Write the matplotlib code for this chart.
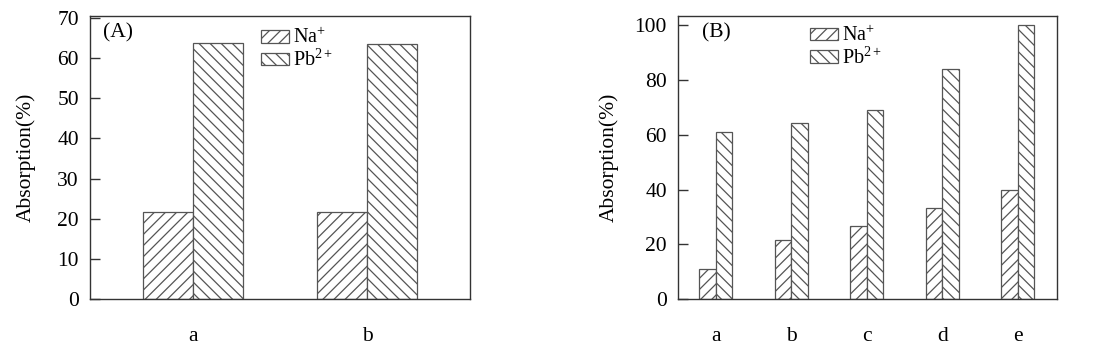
import matplotlib
matplotlib.use("Agg")
import matplotlib.pyplot as plt
import numpy as np

plt.rcParams['font.family'] = ['Liberation Serif', 'DejaVu Serif']
plt.rcParams['hatch.linewidth'] = 0.9
plt.rcParams['hatch.color'] = '#444444'
plt.rcParams['mathtext.fontset'] = 'custom'
plt.rcParams['mathtext.rm'] = 'Liberation Serif'
plt.rcParams['mathtext.it'] = 'Liberation Serif:italic'

cats_a = ['a', 'b']
na_a = [21.6, 21.6]
pb_a = [63.7, 63.6]

cats_b = ['a', 'b', 'c', 'd', 'e']
na_b = [11.0, 21.6, 26.5, 33.2, 39.8]
pb_b = [61.1, 64.2, 69.0, 84.2, 100.0]

series_labels = [r'Na$^{\mathregular{+}}$', r'Pb$^{\mathregular{2+}}$']

fig = plt.figure(figsize=(11.03, 3.51), dpi=100)
W, H = 1103, 351

def add_ax(left, right, top, bottom):
    return fig.add_axes([left / W, 1 - bottom / H, (right - left) / W, (bottom - top) / H])

axA = add_ax(90, 470, 16, 299)
axB = add_ax(678, 1057, 16, 299)

edge = '#555555'
FS = 15.5

def draw(ax, cats, na, pb, width, hatch_n, hatch_p, xlim, ylim, yticks, label,
         label_x, ylabel_x, leg_x, leg_top):
    x = np.arange(len(cats))
    ax.bar(x - width / 2, na, width, facecolor='white', edgecolor=edge, linewidth=0.9,
           hatch=hatch_n, label=series_labels[0])
    ax.bar(x + width / 2, pb, width, facecolor='white', edgecolor=edge, linewidth=0.9,
           hatch=hatch_p, label=series_labels[1])
    ax.set_xlim(*xlim)
    ax.set_ylim(*ylim)
    ax.set_yticks(yticks)
    ax.set_xticks(x)
    ax.set_xticklabels(cats)
    ax.tick_params(axis='y', direction='in', length=7, width=1.0, pad=8, labelsize=FS, color='#333333')
    ax.tick_params(axis='x', length=0, pad=20, labelsize=FS)
    for s in ax.spines.values():
        s.set_linewidth(1.0)
        s.set_color('#333333')
    ax.set_ylabel('Absorption(%)', fontsize=FS)
    ax.yaxis.set_label_coords(ylabel_x, 0.5)
    ax.text(label_x, 0.94, label, transform=ax.transAxes, fontsize=FS, va='center', ha='left')
    ax.legend(loc='upper left', bbox_to_anchor=(leg_x, leg_top), frameon=False, fontsize=14.5,
              handlelength=1.4, handleheight=0.6, handletextpad=0.2, labelspacing=0.08,
              borderpad=0, borderaxespad=0)
    return ax

draw(axA, cats_a, na_a, pb_a, 0.287, '///', '\\\\\\', (-0.59, 1.59), (0, 70.5),
     [0, 10, 20, 30, 40, 50, 60, 70], '(A)', 0.034, -0.142, 0.45, 0.957)
draw(axB, cats_b, na_b, pb_b, 0.22, '///', '\\\\\\', (-0.5, 4.52), (0, 103.4),
     [0, 20, 40, 60, 80, 100], '(B)', 0.063, -0.156, 0.348, 0.965)

fig.savefig('out.png', dpi=100)
